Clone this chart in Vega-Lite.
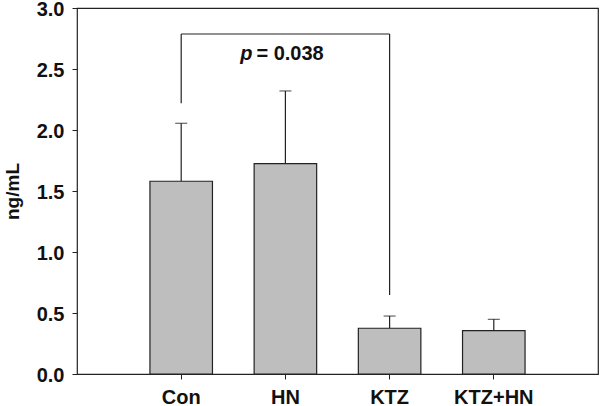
{
  "$schema": "https://vega.github.io/schema/vega-lite/v6.json",
  "width": 521,
  "height": 366,
  "autosize": {"type": "none"},
  "padding": {"left": 77, "top": 8, "right": 2, "bottom": 32},
  "background": "white",
  "config": {
    "font": "Liberation Sans",
    "view": {"stroke": "#222", "strokeWidth": 1.2},
    "scale": {"bandPaddingInner": 0.4, "bandPaddingOuter": 0.7},
    "axis": {"grid": false, "domain": false, "tickColor": "#222", "tickSize": 5, "labelFont": "Liberation Sans", "labelFontWeight": "bold", "labelColor": "#111", "labelFontSize": 20, "titleFont": "Liberation Sans", "titleFontWeight": "bold", "titleFontSize": 19, "titleColor": "#111"}
  },
  "datasets": {
    "bars": [
      {"group": "Con", "mean": 1.58, "upper": 2.055},
      {"group": "HN", "mean": 1.725, "upper": 2.32},
      {"group": "KTZ", "mean": 0.375, "upper": 0.475},
      {"group": "KTZ+HN", "mean": 0.355, "upper": 0.448}
    ],
    "bracketTop": [{"from": "Con", "to": "KTZ", "y": 2.787}],
    "bracketLegs": [
      {"group": "Con", "y1": 2.22, "y2": 2.787},
      {"group": "KTZ", "y1": 0.648, "y2": 2.787}
    ],
    "label": [{"group": "HN", "y": 2.574, "p": "p", "rest": "= 0.038"}]
  },
  "layer": [
    {
      "data": {"name": "bars"},
      "mark": {"type": "rule", "color": "#222", "strokeWidth": 1.2},
      "encoding": {
        "x": {"field": "group", "type": "nominal", "sort": null, "axis": {"title": null, "labelAngle": 0, "labelPadding": 8}},
        "y": {"field": "mean", "type": "quantitative", "scale": {"domain": [0, 3], "nice": false}, "axis": {"title": "ng/mL", "values": [0, 0.5, 1, 1.5, 2, 2.5, 3], "format": ".1f", "labelPadding": 8, "labelOffset": 1.5, "titlePadding": 14}},
        "y2": {"field": "upper"}
      }
    },
    {
      "data": {"name": "bars"},
      "mark": {"type": "tick", "color": "#222", "size": 12, "thickness": 1.2},
      "encoding": {
        "x": {"field": "group", "type": "nominal", "sort": null},
        "y": {"field": "upper", "type": "quantitative"}
      }
    },
    {
      "data": {"name": "bars"},
      "mark": {"type": "bar", "fill": "#bebebe", "stroke": "#222", "strokeWidth": 1.2},
      "encoding": {
        "x": {"field": "group", "type": "nominal", "sort": null},
        "y": {"field": "mean", "type": "quantitative"}
      }
    },
    {
      "data": {"name": "bracketTop"},
      "mark": {"type": "rule", "color": "#222", "strokeWidth": 1.2},
      "encoding": {
        "x": {"field": "from", "type": "nominal"},
        "x2": {"field": "to"},
        "y": {"field": "y", "type": "quantitative"}
      }
    },
    {
      "data": {"name": "bracketLegs"},
      "mark": {"type": "rule", "color": "#222", "strokeWidth": 1.2},
      "encoding": {
        "x": {"field": "group", "type": "nominal"},
        "y": {"field": "y1", "type": "quantitative"},
        "y2": {"field": "y2"}
      }
    },
    {
      "data": {"name": "label"},
      "mark": {"type": "text", "fontWeight": "bold", "fontStyle": "italic", "fontSize": 20, "align": "right", "baseline": "alphabetic", "dx": -33, "color": "#111"},
      "encoding": {
        "x": {"field": "group", "type": "nominal"},
        "y": {"field": "y", "type": "quantitative"},
        "text": {"field": "p"}
      }
    },
    {
      "data": {"name": "label"},
      "mark": {"type": "text", "fontWeight": "bold", "fontSize": 20, "align": "left", "baseline": "alphabetic", "dx": -29, "color": "#111"},
      "encoding": {
        "x": {"field": "group", "type": "nominal"},
        "y": {"field": "y", "type": "quantitative"},
        "text": {"field": "rest"}
      }
    }
  ]
}
